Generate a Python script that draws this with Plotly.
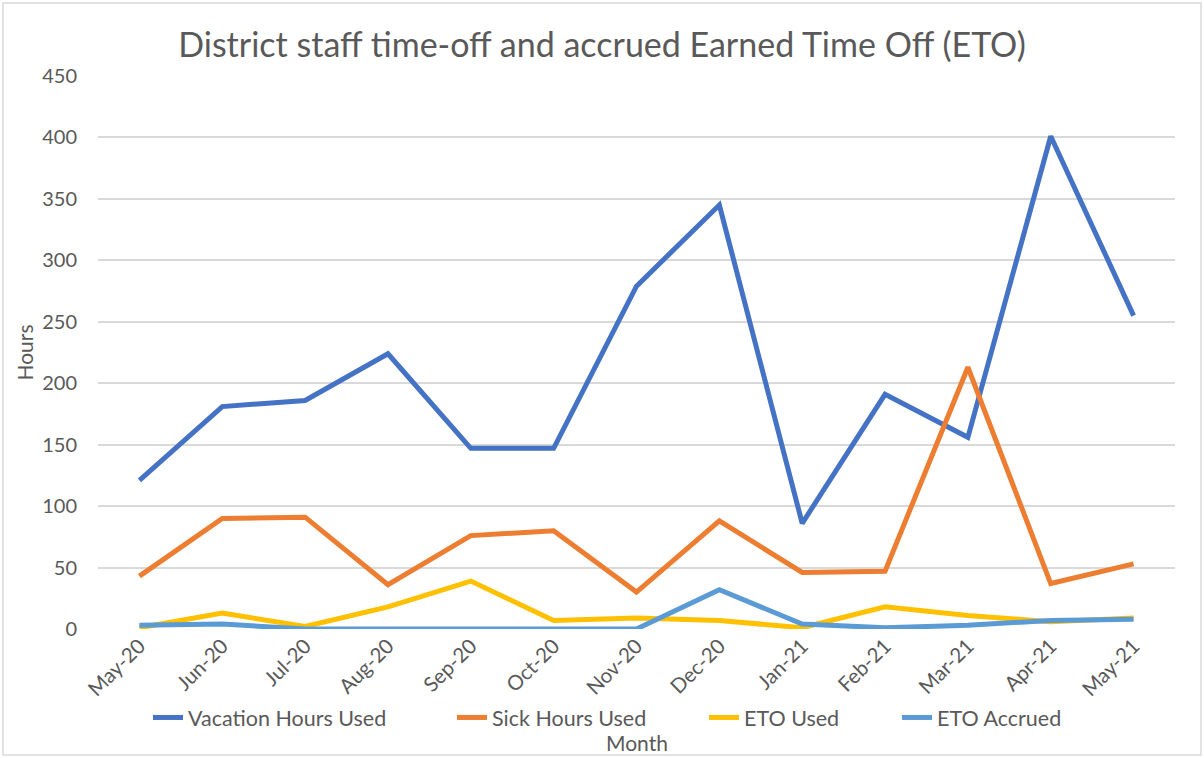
import plotly.graph_objects as go

months = ["May-20", "Jun-20", "Jul-20", "Aug-20", "Sep-20", "Oct-20", "Nov-20",
          "Dec-20", "Jan-21", "Feb-21", "Mar-21", "Apr-21", "May-21"]
vacation_used = [121, 181, 186, 224, 147, 147, 279, 345, 86, 191, 156, 401, 255]
sick_used = [43, 90, 91, 36, 76, 80, 30, 88, 46, 47, 213, 37, 53]
eto_used = [1, 13, 2, 18, 39, 7, 9, 7, 1, 18, 11, 6, 9]
eto_accrued = [3, 4, 0, 0, 0, 1, 0, 32, 4, 1, 3, 7, 8]

y_ticks = [0, 50, 100, 150, 200, 250, 300, 350, 400, 450]

font_family = "Lato, 'Open Sans', sans-serif"
text_color = "#595959"

fig = go.Figure()

# name, values, colour, legend id, left edge of legend entry (px)
series = [
    ("Vacation Hours Used", vacation_used, "#4472C4", "legend", 148),
    ("Sick Hours Used", sick_used, "#ED7D31", "legend2", 452),
    ("ETO Used", eto_used, "#FFC000", "legend3", 704),
    ("ETO Accrued", eto_accrued, "#5B9BD5", "legend4", 897),
]

plot_w, plot_h = 1077, 553
legends = {}
for name, vals, color, leg, left_px in series:
    fig.add_trace(go.Scatter(
        x=months, y=vals,
        name=name,
        mode="lines",
        line=dict(color=color, width=5),
        legend=leg,
    ))
    legends[leg] = dict(
        orientation="h",
        x=(left_px - 98) / plot_w, xanchor="left",
        y=-0.16, yanchor="middle",
        font=dict(size=21.5, color=text_color),
        bgcolor="rgba(0,0,0,0)",
    )

# outer chart border (Excel style)
fig.add_shape(
    type="rect", xref="paper", yref="paper",
    x0=-95 / plot_w, x1=1 + 26 / plot_w, y0=-126 / plot_h, y1=1 + 73 / plot_h,
    line=dict(color="#D9D9D9", width=1.5),
)

# x axis title sits under the legend, as in the original
fig.add_annotation(
    text="Month", xref="paper", yref="paper",
    x=0.5, y=-(742 - 629) / plot_h, xanchor="center", yanchor="middle",
    showarrow=False, font=dict(size=21, color=text_color),
)

fig.update_layout(
    width=1204,
    height=758,
    title=dict(
        text="District staff time-off and accrued Earned Time Off (ETO)",
        x=0.5, xanchor="center", y=0.94, yanchor="middle",
        font=dict(size=34, color=text_color, family=font_family),
    ),
    font=dict(family=font_family, color=text_color, size=20),
    plot_bgcolor="white",
    paper_bgcolor="white",
    margin=dict(l=98, r=29, t=76, b=129),
    showlegend=True,
    **legends,
)

fig.update_xaxes(
    range=[-0.5, 12.5],
    tickangle=-45,
    showgrid=False,
    showline=False,
    zeroline=False,
    ticks="",
    tickfont=dict(size=20.5, color=text_color),
    automargin=False,
)

fig.update_yaxes(
    range=[0, 450],
    tickvals=y_ticks,
    showgrid=True,
    gridcolor="#D9D9D9",
    gridwidth=1.5,
    zeroline=False,
    showline=False,
    ticks="",
    ticklabelstandoff=20,
    tickfont=dict(size=20, color=text_color),
    title=dict(text="Hours", font=dict(size=21, color=text_color), standoff=2),
    automargin=False,
)

fig.write_html("out.html", config={"displayModeBar": False},
               post_script="document.body.style.margin='0';")
